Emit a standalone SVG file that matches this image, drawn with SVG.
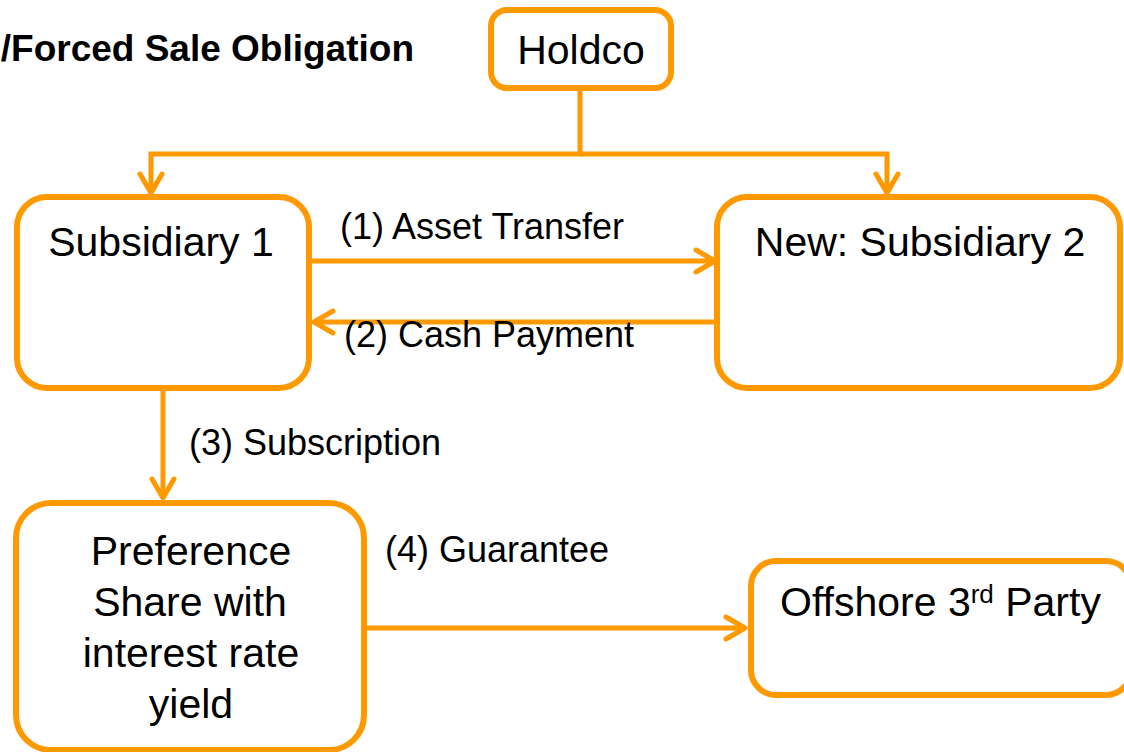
<svg xmlns="http://www.w3.org/2000/svg" width="1124" height="752" viewBox="0 0 1124 752">
  <defs>
    <style>
      .box { fill: #FFFFFF; stroke: #FF9900; stroke-width: 6; }
      .conn { fill: none; stroke: #FF9900; stroke-width: 5; stroke-linejoin: miter; }
      .node-text { font-family: "Liberation Sans", Arial, sans-serif; font-size: 41px; fill: #000000; }
      .label { font-family: "Liberation Sans", Arial, sans-serif; font-size: 36px; fill: #000000; }
      .title { font-family: "Liberation Sans", Arial, sans-serif; font-size: 37px; font-weight: bold; fill: #000000; }
    </style>
    <marker id="chevron" markerUnits="userSpaceOnUse" markerWidth="40" markerHeight="40"
            viewBox="-25 -20 40 40" refX="0" refY="0" orient="auto" overflow="visible">
      <path d="M-19,-11 L0,0 L-19,11" fill="none" stroke="#FF9900" stroke-width="5"
            stroke-linecap="round" stroke-linejoin="round"/>
    </marker>
  </defs>

  <rect width="1124" height="752" fill="#FFFFFF"/>

  <text class="title" x="414" y="61" text-anchor="end">/Forced Sale Obligation</text>

  <!-- connectors -->
  <g id="connectors">
    <path class="conn" d="M580,90 V154 H151 V193" marker-end="url(#chevron)"/>
    <path class="conn" d="M580,154 H887 V193" marker-end="url(#chevron)"/>
    <path class="conn" d="M312,261 H715" marker-end="url(#chevron)"/>
    <path class="conn" d="M717,322 H314" marker-end="url(#chevron)"/>
    <path class="conn" d="M163,390 V498" marker-end="url(#chevron)"/>
    <path class="conn" d="M367,628 H745" marker-end="url(#chevron)"/>
    <text class="label" x="340" y="239">(1) Asset Transfer</text>
    <text class="label" x="344" y="347">(2) Cash Payment</text>
    <text class="label" x="189" y="455">(3) Subscription</text>
    <text class="label" x="385" y="562">(4) Guarantee</text>
  </g>

  <g id="holdco">
    <rect class="box" x="491" y="10" width="180" height="78" rx="16"/>
    <text class="node-text" x="581" y="64" text-anchor="middle">Holdco</text>
  </g>

  <g id="subsidiary-1">
    <rect class="box" x="17" y="197" width="292" height="191" rx="30"/>
    <text class="node-text" x="161" y="256" text-anchor="middle">Subsidiary 1</text>
  </g>

  <g id="subsidiary-2">
    <rect class="box" x="717" y="197" width="403" height="191" rx="30"/>
    <text class="node-text" x="920" y="256" text-anchor="middle">New: Subsidiary 2</text>
  </g>

  <g id="preference-share">
    <rect class="box" x="16" y="503" width="348" height="247" rx="35"/>
    <text class="node-text" x="191" y="565" text-anchor="middle">Preference</text>
    <text class="node-text" x="190" y="616" text-anchor="middle">Share with</text>
    <text class="node-text" x="191" y="667" text-anchor="middle">interest rate</text>
    <text class="node-text" x="191" y="718" text-anchor="middle">yield</text>
  </g>

  <g id="offshore-third-party">
    <rect class="box" x="751" y="561" width="380" height="134" rx="25"/>
    <text class="node-text" x="780" y="616">Offshore 3<tspan dy="-13" font-size="26">rd</tspan><tspan dy="13"> Party</tspan></text>
  </g>
</svg>
